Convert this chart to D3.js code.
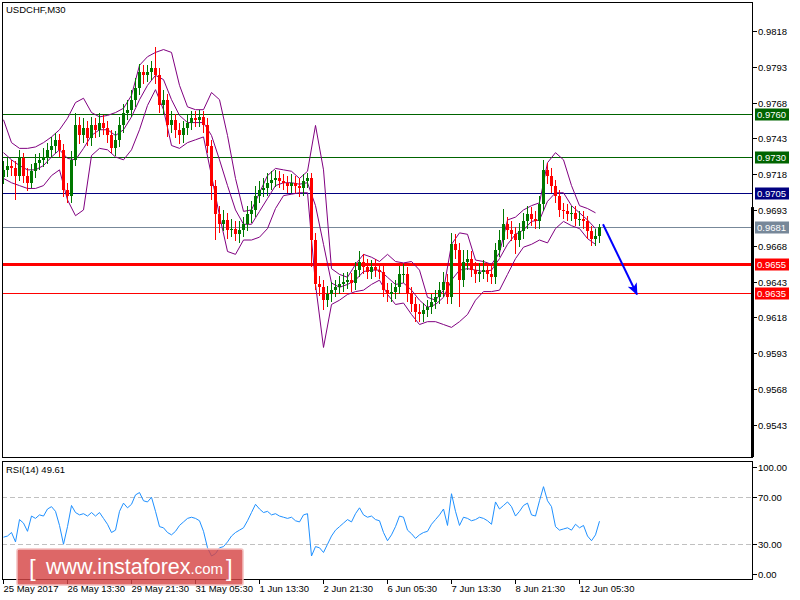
<!DOCTYPE html>
<html><head><meta charset="utf-8">
<script src="https://cdnjs.cloudflare.com/ajax/libs/d3/7.8.5/d3.min.js"></script>
<style>
body{margin:0;background:#fff}
svg{display:block}
text{font-family:"Liberation Sans",Arial,sans-serif}
</style>
</head><body>
<svg id="c" width="800" height="600"></svg>
<script>
// ---------- DATA ----------
const symbolTitle = "USDCHF,M30";
const rsiTitle = "RSI(14) 49.61";

const openP = [
0.9716,0.9721,0.9724,0.9722,0.9717,0.9729,0.9717,0.9712,0.9720,0.9726,
0.9728,0.9730,0.9735,0.9738,0.9742,0.9735,0.9707,0.9703,0.9728,0.9752,
0.9745,0.9750,0.9743,0.9752,0.9749,0.9754,0.9750,0.9745,0.9736,0.9742,
0.9752,0.9761,0.9763,0.9770,0.9778,0.9789,0.9787,0.9789,0.9792,0.9787,
0.9766,0.9770,0.9752,0.9756,0.9749,0.9745,0.9750,0.9754,0.9757,0.9756,
0.9758,0.9752,0.9738,0.9710,0.9690,0.9683,0.9686,0.9679,0.9680,0.9676,
0.9679,0.9683,0.9690,0.9693,0.9703,0.9707,0.9708,0.9712,0.9714,0.9715,
0.9713,0.9712,0.9710,0.9712,0.9710,0.9708,0.9713,0.9715,0.9672,0.9641,
0.9639,0.9630,0.9634,0.9637,0.9639,0.9641,0.9643,0.9644,0.9642,0.9651,
0.9657,0.9653,0.9650,0.9653,0.9651,0.9650,0.9637,0.9634,0.9636,0.9639,
0.9648,0.9648,0.9634,0.9627,0.9622,0.9620,0.9623,0.9625,0.9629,0.9632,
0.9637,0.9643,0.9632,0.9669,0.9665,0.9644,0.9657,0.9659,0.9651,0.9648,
0.9650,0.9651,0.9648,0.9646,0.9665,0.9672,0.9683,0.9679,0.9676,0.9672,
0.9678,0.9685,0.9690,0.9687,0.9685,0.9697,0.9721,0.9717,0.9710,0.9703,
0.9693,0.9692,0.9690,0.9691,0.9687,0.9687,0.9685,0.9678,0.9673,0.9675];

const highP = [
0.9727,0.9729,0.9728,0.9727,0.9735,0.9733,0.9722,0.9725,0.9732,0.9733,
0.9736,0.9740,0.9744,0.9747,0.9746,0.9739,0.9712,0.9734,0.9761,0.9758,
0.9757,0.9755,0.9758,0.9757,0.9761,0.9759,0.9755,0.9749,0.9748,0.9758,
0.9767,0.9770,0.9777,0.9785,0.9795,0.9794,0.9794,0.9797,0.9807,0.9792,
0.9777,0.9774,0.9762,0.9760,0.9754,0.9755,0.9759,0.9762,0.9762,0.9763,
0.9762,0.9757,0.9742,0.9714,0.9696,0.9693,0.9691,0.9687,0.9685,0.9685,
0.9688,0.9696,0.9699,0.9710,0.9713,0.9715,0.9719,0.9720,0.9721,0.9720,
0.9718,0.9717,0.9718,0.9717,0.9715,0.9718,0.9719,0.9719,0.9677,0.9647,
0.9644,0.9640,0.9643,0.9644,0.9647,0.9649,0.9650,0.9649,0.9657,0.9664,
0.9662,0.9659,0.9658,0.9659,0.9656,0.9654,0.9642,0.9642,0.9644,0.9654,
0.9655,0.9653,0.9639,0.9632,0.9627,0.9628,0.9630,0.9634,0.9637,0.9643,
0.9650,0.9648,0.9677,0.9676,0.9670,0.9665,0.9665,0.9664,0.9657,0.9656,
0.9658,0.9656,0.9654,0.9670,0.9679,0.9694,0.9688,0.9685,0.9681,0.9684,
0.9691,0.9696,0.9695,0.9692,0.9703,0.9728,0.9726,0.9722,0.9714,0.9707,
0.9698,0.9697,0.9696,0.9696,0.9692,0.9692,0.9689,0.9682,0.9680,0.9683];

const lowP = [
0.9711,0.9716,0.9717,0.9700,0.9713,0.9712,0.9706,0.9708,0.9715,0.9721,
0.9723,0.9725,0.9730,0.9733,0.9730,0.9702,0.9698,0.9698,0.9724,0.9739,
0.9740,0.9738,0.9738,0.9743,0.9744,0.9745,0.9740,0.9733,0.9731,0.9737,
0.9747,0.9756,0.9758,0.9765,0.9773,0.9781,0.9782,0.9784,0.9781,0.9761,
0.9760,0.9744,0.9747,0.9743,0.9739,0.9740,0.9745,0.9749,0.9751,0.9751,
0.9747,0.9733,0.9700,0.9672,0.9677,0.9678,0.9673,0.9674,0.9671,0.9670,
0.9674,0.9678,0.9684,0.9688,0.9698,0.9702,0.9703,0.9707,0.9709,0.9708,
0.9707,0.9705,0.9705,0.9705,0.9702,0.9703,0.9708,0.9653,0.9637,0.9633,
0.9623,0.9625,0.9629,0.9632,0.9634,0.9636,0.9638,0.9636,0.9637,0.9646,
0.9648,0.9645,0.9645,0.9646,0.9645,0.9632,0.9629,0.9629,0.9631,0.9634,
0.9642,0.9629,0.9622,0.9615,0.9615,0.9615,0.9618,0.9620,0.9624,0.9627,
0.9632,0.9627,0.9627,0.9659,0.9625,0.9639,0.9651,0.9646,0.9642,0.9643,
0.9645,0.9643,0.9641,0.9641,0.9660,0.9667,0.9673,0.9671,0.9662,0.9667,
0.9673,0.9680,0.9682,0.9680,0.9680,0.9692,0.9711,0.9705,0.9698,0.9688,
0.9687,0.9685,0.9685,0.9682,0.9682,0.9680,0.9673,0.9668,0.9668,0.9670];

const closeP = [
0.9721,0.9724,0.9722,0.9717,0.9729,0.9717,0.9712,0.9720,0.9726,0.9728,
0.9730,0.9735,0.9738,0.9742,0.9735,0.9707,0.9703,0.9728,0.9752,0.9745,
0.9750,0.9743,0.9752,0.9749,0.9754,0.9750,0.9745,0.9736,0.9742,0.9752,
0.9761,0.9763,0.9770,0.9778,0.9789,0.9787,0.9789,0.9792,0.9787,0.9766,
0.9770,0.9752,0.9756,0.9749,0.9745,0.9750,0.9754,0.9757,0.9756,0.9758,
0.9752,0.9738,0.9710,0.9690,0.9683,0.9686,0.9679,0.9680,0.9676,0.9679,
0.9683,0.9690,0.9693,0.9703,0.9707,0.9708,0.9712,0.9714,0.9715,0.9713,
0.9712,0.9710,0.9712,0.9710,0.9708,0.9713,0.9715,0.9672,0.9641,0.9639,
0.9630,0.9634,0.9637,0.9639,0.9641,0.9643,0.9644,0.9642,0.9651,0.9657,
0.9653,0.9650,0.9653,0.9651,0.9650,0.9637,0.9634,0.9636,0.9639,0.9648,
0.9648,0.9634,0.9627,0.9622,0.9620,0.9623,0.9625,0.9629,0.9632,0.9637,
0.9643,0.9632,0.9669,0.9665,0.9644,0.9657,0.9659,0.9651,0.9648,0.9650,
0.9651,0.9648,0.9646,0.9665,0.9672,0.9683,0.9679,0.9676,0.9672,0.9678,
0.9685,0.9690,0.9687,0.9685,0.9697,0.9721,0.9717,0.9710,0.9703,0.9693,
0.9692,0.9690,0.9691,0.9687,0.9687,0.9685,0.9678,0.9673,0.9675,0.9681];

// Bollinger bands, read every second bar
const bbUpper = [
0.9756,0.9740,0.9736,0.9736,0.9737,0.9740,0.9744,0.9749,0.9757,0.9768,
0.9771,0.9761,0.9758,0.9759,0.9761,0.9764,0.9773,0.9794,0.9800,0.9803,
0.9805,0.9803,0.9780,0.9765,0.9763,0.9763,0.9775,0.9770,0.9745,0.9715,
0.9692,0.9693,0.9705,0.9717,0.9722,0.9721,0.9720,0.9715,0.9720,0.9752,
0.9721,0.9652,0.9648,0.9646,0.9655,0.9662,0.9660,0.9657,0.9662,0.9657,
0.9656,0.9657,0.9651,0.9632,0.9630,0.9637,0.9669,0.9677,0.9676,0.9658,
0.9657,0.9655,0.9663,0.9686,0.9688,0.9693,0.9696,0.9698,0.9726,0.9733,
0.9728,0.9710,0.9696,0.9694,0.9691];
const bbMiddle = [
0.9733,0.9728,0.9724,0.9721,0.9721,0.9724,0.9730,0.9735,0.9729,0.9728,
0.9736,0.9745,0.9749,0.9749,0.9745,0.9749,0.9758,0.9770,0.9780,0.9787,
0.9784,0.9770,0.9759,0.9754,0.9754,0.9754,0.9745,0.9728,0.9710,0.9693,
0.9683,0.9683,0.9692,0.9701,0.9710,0.9712,0.9712,0.9711,0.9712,0.9696,
0.9669,0.9642,0.9639,0.9641,0.9644,0.9650,0.9651,0.9651,0.9646,0.9641,
0.9642,0.9637,0.9630,0.9625,0.9627,0.9632,0.9644,0.9651,0.9652,0.9651,
0.9650,0.9651,0.9659,0.9669,0.9676,0.9679,0.9685,0.9686,0.9699,0.9705,
0.9705,0.9696,0.9691,0.9686,0.9680];
const bbLower = [
0.9715,0.9712,0.9710,0.9708,0.9708,0.9710,0.9717,0.9721,0.9700,0.9689,
0.9693,0.9731,0.9736,0.9735,0.9730,0.9728,0.9735,0.9749,0.9766,0.9777,
0.9763,0.9738,0.9736,0.9740,0.9742,0.9744,0.9717,0.9689,0.9664,0.9662,
0.9672,0.9672,0.9674,0.9680,0.9694,0.9703,0.9704,0.9705,0.9705,0.9641,
0.9597,0.9627,0.9630,0.9634,0.9636,0.9637,0.9641,0.9644,0.9634,0.9627,
0.9628,0.9620,0.9613,0.9615,0.9615,0.9613,0.9611,0.9615,0.9620,0.9630,
0.9636,0.9636,0.9637,0.9648,0.9659,0.9667,0.9669,0.9672,0.9670,0.9680,
0.9685,0.9682,0.9680,0.9673,0.9669];

const rsiValues = [
36,37,40,32,51,48,41,54,52,55,
54,60,62,58,46,30,45,63,57,55,
56,54,57,54,57,52,47,40,42,58,
65,61,64,72,74,67,66,70,58,45,
44,40,38,41,46,49,52,53,52,50,
41,27,20,22,27,28,32,37,40,42,
44,50,57,64,60,57,58,55,56,54,
53,52,53,50,49,55,56,20,28,27,
23,30,37,42,45,48,51,49,56,61,
55,53,54,51,50,40,33,38,45,54,
53,42,39,35,38,40,41,47,51,55,
60,46,73,58,46,53,52,50,51,53,
52,50,47,66,60,63,66,62,54,58,
63,65,55,54,67,79,67,62,45,42,
43,44,42,47,44,46,37,33,38,49.61];

const priceTicks = [0.9818,0.9793,0.9768,0.9743,0.9718,0.9693,0.9668,0.9643,0.9618,0.9593,0.9568,0.9543];
const levelValues = [0.9760,0.9730,0.9705,0.9681,0.9655,0.9635];
const levelColors = ["#006400","#006400","#000080","#778899","#ff0000","#ff0000"];
const levelWidths = [1,1,1,1,3,1];
const rsiTicks = [100,70,30,0];
const rsiTickLabels = ["100.00","70.00","30.00","0.00"];
const rsiLevels = [70,30];
const timeLabels = ["25 May 2017","26 May 13:30","29 May 21:30","31 May 05:30","1 Jun 13:30","2 Jun 21:30","6 Jun 05:30","7 Jun 13:30","8 Jun 21:30","12 Jun 05:30"];
const timeLabelIdx = [0,16,32,48,64,80,96,112,128,144];
const arrowFrom = {i:150, p:0.9683};
const arrowTo = {i:158.5, p:0.9634};

// ---------- LAYOUT ----------
const svg = d3.select("#c");
const W = 800, H = 600;
const L = 2, R = 752, mainTop = 2, mainBot = 457, rsiTop = 461, rsiBot = 579;
const x = d3.scaleLinear().domain([0, 149]).range([3, 599]);
const y = d3.scaleLinear().domain([0.95205, 0.98382]).range([mainBot, mainTop]);
const yR = d3.scaleLinear().domain([0, 100]).range([579.5, 462]);

svg.append("rect").attr("width", W).attr("height", H).attr("fill", "#fff");

const defs = svg.append("defs");
defs.append("clipPath").attr("id", "mainClip").append("rect")
  .attr("x", L + 1).attr("y", mainTop + 1).attr("width", R - L - 1).attr("height", mainBot - mainTop - 1);
defs.append("clipPath").attr("id", "rsiClip").append("rect")
  .attr("x", L + 1).attr("y", rsiTop + 1).attr("width", R - L - 1).attr("height", rsiBot - rsiTop - 1);
defs.append("marker").attr("id", "arrowHead")
  .attr("viewBox", "0 0 12 10").attr("refX", 11).attr("refY", 5)
  .attr("markerUnits", "userSpaceOnUse").attr("markerWidth", 13).attr("markerHeight", 10)
  .attr("orient", "auto")
  .append("path").attr("d", "M0,0 L12,5 L0,10 L3,5 Z").attr("fill", "#0000ff");

const main = svg.append("g").attr("clip-path", "url(#mainClip)");

// level lines
levelValues.forEach((v, k) => {
  main.append("line")
    .attr("x1", L).attr("x2", R)
    .attr("y1", Math.round(y(v)) + 0.5).attr("y2", Math.round(y(v)) + 0.5)
    .attr("stroke", levelColors[k]).attr("stroke-width", levelWidths[k]);
});

// Bollinger bands
const bandIdx = bbUpper.map((_, k) => k * 2);
const bandLine = d3.line().x((d, k) => x(bandIdx[k]) + 0.5).y(d => y(d));
[bbUpper, bbMiddle, bbLower].forEach(arr => {
  main.append("path").attr("d", bandLine(arr))
    .attr("fill", "none").attr("stroke", "#800080").attr("stroke-width", 1);
});

// candles
const bars = closeP.map((c, i) => ({i, o: openP[i], h: highP[i], l: lowP[i], c}));
const cg = main.append("g").attr("shape-rendering", "crispEdges");
cg.selectAll("rect.w").data(bars).join("rect").attr("class", "w")
  .attr("x", d => x(d.i)).attr("width", 1)
  .attr("y", d => y(d.h)).attr("height", d => Math.max(1, y(d.l) - y(d.h)))
  .attr("fill", d => d.c >= d.o ? "#007800" : "#ff0000");
cg.selectAll("rect.b").data(bars).join("rect").attr("class", "b")
  .attr("x", d => x(d.i) - 1).attr("width", 3)
  .attr("y", d => y(Math.max(d.o, d.c))).attr("height", d => Math.max(1, Math.abs(y(d.o) - y(d.c))))
  .attr("fill", d => d.c >= d.o ? "#007800" : "#ff0000");

// arrow
svg.append("line")
  .attr("x1", x(arrowFrom.i)).attr("y1", y(arrowFrom.p))
  .attr("x2", x(arrowTo.i)).attr("y2", y(arrowTo.p))
  .attr("stroke", "#0000ff").attr("stroke-width", 2)
  .attr("marker-end", "url(#arrowHead)");

// frames
const frame = svg.append("g").attr("stroke", "#000").attr("fill", "none").attr("shape-rendering", "crispEdges");
frame.append("rect").attr("x", L + 0.5).attr("y", mainTop + 0.5).attr("width", R - L).attr("height", mainBot - mainTop);
frame.append("rect").attr("x", L + 0.5).attr("y", rsiTop + 0.5).attr("width", R - L).attr("height", rsiBot - rsiTop);
svg.append("rect").attr("x", R - 1).attr("y", y(0.9695)).attr("width", 3).attr("height", mainBot - y(0.9695)).attr("fill", "#000");

// price axis
const pa = svg.append("g");
priceTicks.forEach(v => {
  const yy = Math.round(y(v)) + 0.5;
  pa.append("line").attr("x1", R).attr("x2", R + 5).attr("y1", yy).attr("y2", yy).attr("stroke", "#000");
  pa.append("text").attr("x", R + 6).attr("y", yy + 3.5).attr("font-size", 9.5).attr("fill", "#000")
    .text(v.toFixed(4));
});
// level labels
levelValues.forEach((v, k) => {
  const yy = Math.round(y(v)) + 0.5;
  pa.append("rect").attr("x", R + 3).attr("y", yy - 6).attr("width", 34).attr("height", 12)
    .attr("fill", levelColors[k]);
  pa.append("text").attr("x", R + 5).attr("y", yy + 3.5).attr("font-size", 9.5).attr("fill", "#fff")
    .text(v.toFixed(4));
});

// titles
svg.append("text").attr("x", 6).attr("y", 13).attr("font-size", 9.5).text(symbolTitle);
svg.append("text").attr("x", 6).attr("y", 473).attr("font-size", 9.5).text(rsiTitle);

// RSI panel
const rg = svg.append("g").attr("clip-path", "url(#rsiClip)");
rsiLevels.forEach(v => {
  rg.append("line").attr("x1", L).attr("x2", R)
    .attr("y1", Math.round(yR(v)) + 0.5).attr("y2", Math.round(yR(v)) + 0.5)
    .attr("stroke", "#c0c0c0").attr("stroke-dasharray", "5,3");
});
const rsiLine = d3.line().x((d, i) => x(i) + 0.5).y(d => yR(d));
rg.append("path").attr("d", rsiLine(rsiValues)).attr("fill", "none")
  .attr("stroke", "#1e90ff").attr("stroke-width", 1);

rsiTicks.forEach((v, k) => {
  const yy = Math.round(Math.min(573.5, Math.max(466.5, yR(v)))) + 0.5;
  svg.append("line").attr("x1", R).attr("x2", R + 5).attr("y1", yy).attr("y2", yy).attr("stroke", "#000");
  svg.append("text").attr("x", R + 6).attr("y", yy + 3.5).attr("font-size", 9.5).text(rsiTickLabels[k]);
});

// time axis
timeLabelIdx.forEach((ti, k) => {
  const xx = Math.round(x(ti)) + 0.5;
  svg.append("line").attr("x1", xx).attr("x2", xx).attr("y1", rsiBot).attr("y2", rsiBot + 5).attr("stroke", "#000");
  svg.append("text").attr("x", xx).attr("y", 592).attr("font-size", 9.5).text(timeLabels[k]);
});

// watermark
const wm = svg.append("g");
wm.append("rect").attr("x", 17).attr("y", 549).attr("width", 226).attr("height", 36).attr("rx", 2)
  .attr("fill", "#d64545").attr("fill-opacity", 0.82)
  .attr("stroke", "#f4c0c0").attr("stroke-width", 1.5);
wm.append("text").attr("x", 29).attr("y", 576).attr("font-size", 24).attr("fill", "#fff").text("[");
const wt = wm.append("text").attr("x", 46).attr("y", 574).attr("font-size", 21.5).attr("fill", "#fff");
wt.append("tspan").text("www.instaforex");
wt.append("tspan").attr("font-size", 15).text(".com");
wm.append("text").attr("x", 226).attr("y", 576).attr("font-size", 24).attr("fill", "#fff").text("]");
</script>
</body></html>
